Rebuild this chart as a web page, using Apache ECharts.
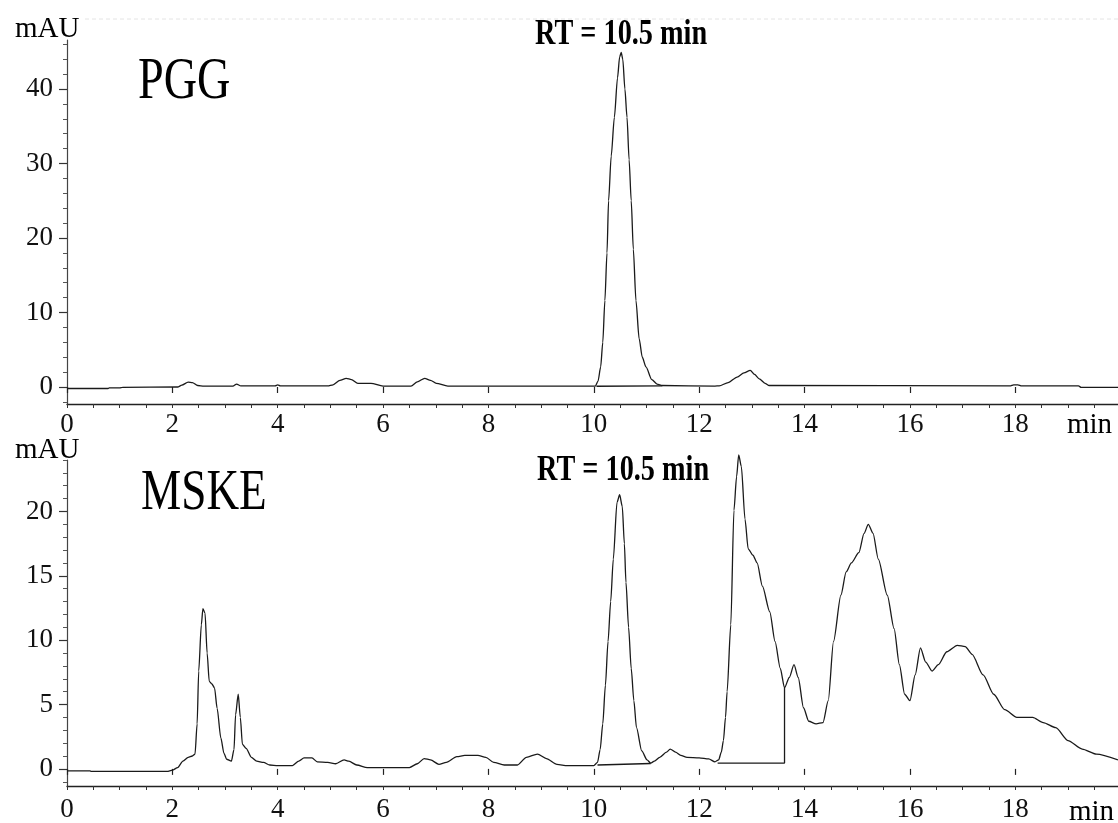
<!DOCTYPE html>
<html><head><meta charset="utf-8">
<script src="https://cdn.jsdelivr.net/npm/echarts@6/dist/echarts.min.js"></script>
<style>html,body{margin:0;padding:0;background:#fff}#c{width:1118px;height:823px}</style>
</head><body><div id="c"></div>
<script>
// ---- data ----
const xTickLabels = [0, 2, 4, 6, 8, 10, 12, 14, 16, 18];
const pggYLabels = [0, 10, 20, 30, 40];
const mskeYLabels = [0, 5, 10, 15, 20];

const pggTime = [0,0.78,0.8,1.0,1.05,2.1,2.18,2.3,2.38,2.48,2.6,3.15,3.22,3.3,3.95,4.0,4.05,4.95,5.05,5.18,5.3,5.4,5.52,5.77,6.0,6.53,6.65,6.79,6.9,7.01,7.23,10.03,
  10.08,10.13,10.17,10.21,10.25,10.28,10.33,10.39,10.45,10.49,10.52,10.55,10.59,10.63,10.67,10.71,10.75,10.8,10.86,10.92,10.99,11.1,11.2,11.3,
  12.3,12.38,12.55,12.72,12.85,12.97,13.05,13.14,13.25,13.33,17.9,17.97,18.05,18.12,19.2,19.25,19.95];
const pggAbs = [-0.2,-0.2,-0.12,-0.12,-0.05,0.0,0.25,0.65,0.6,0.2,0.12,0.12,0.4,0.15,0.15,0.3,0.15,0.15,0.3,0.9,1.17,1.0,0.5,0.5,0.13,0.13,0.7,1.17,0.9,0.5,0.13,0.13,
  0.8,2.7,6,11.6,18,25,31,36.2,41.5,44.3,44.9,44,40,36.2,30.5,25,18.5,11.6,6.5,4,2.7,1.0,0.4,0.2,
  0.13,0.15,0.6,1.34,1.9,2.24,1.7,1.1,0.5,0.2,0.15,0.3,0.3,0.15,0.15,-0.05,-0.05];
const pggBaseTime = [10.05, 11.3];
const pggBaseAbs = [0.1, 0.15];

const mskeTime = [0,0.44,0.46,1.9,2.0,2.1,2.2,2.3,2.38,2.43,2.47,2.5,2.55,2.58,2.62,2.66,2.7,2.75,2.8,2.85,2.92,2.98,3.03,3.12,3.17,3.2,3.25,3.29,3.33,3.4,3.5,3.6,3.73,3.85,
  4.0,4.28,4.4,4.5,4.65,4.75,4.95,5.1,5.26,5.35,5.5,5.7,6.5,6.65,6.78,6.9,7.06,7.2,7.4,7.55,7.8,7.95,8.1,8.3,8.55,8.72,8.93,9.1,9.3,9.5,
  10.0,10.07,10.12,10.17,10.22,10.27,10.32,10.37,10.44,10.49,10.54,10.58,10.61,10.66,10.71,10.76,10.81,10.91,11.01,11.08,11.15,11.25,11.38,11.45,11.55,11.65,11.77,12.0,12.18,12.3,
  12.37,12.42,12.46,12.5,12.53,12.6,12.66,12.71,12.75,12.8,12.87,12.93,13.02,13.1,13.2,13.34,13.44,13.54,13.62,13.71,13.8,13.88,13.98,14.08,14.22,14.35,14.45,14.55,14.69,14.79,14.89,
  15.03,15.13,15.21,15.3,15.4,15.57,15.7,15.8,15.9,16.0,16.1,16.2,16.3,16.42,16.54,16.7,16.9,17.05,17.18,17.39,17.59,17.8,18.03,18.33,18.53,18.77,19.0,19.27,19.54,19.95];
const mskeAbs = [-0.15,-0.15,-0.2,-0.2,-0.1,0.1,0.6,0.9,1.0,1.15,3.5,7.6,11.2,12.45,12.1,9.0,6.8,6.6,6.3,4.7,2.4,1.2,0.75,0.6,1.5,4.2,5.8,4.0,1.9,1.6,0.9,0.6,0.5,0.3,
  0.26,0.26,0.6,0.85,0.85,0.55,0.5,0.4,0.7,0.6,0.3,0.1,0.1,0.4,0.8,0.7,0.35,0.5,0.95,1.05,1.05,0.9,0.5,0.3,0.3,0.9,1.15,0.8,0.35,0.25,
  0.26,0.5,1.5,3.5,6.5,9.9,13,16.3,20.7,21.3,20.4,17.5,14.5,11,7.8,5.3,3.2,1.4,0.7,0.45,0.6,0.9,1.3,1.54,1.3,1.05,0.9,0.85,0.77,0.55,
  0.7,1.3,2.2,4.0,6.0,11.2,20.1,22.7,24.4,23.5,19.4,17.1,16.6,16.0,14.2,12.2,9.9,7.8,6.3,7.1,8.1,7.1,4.75,3.7,3.5,3.6,5.3,9.9,13.5,15.3,16.0,
  16.8,18.3,19.0,18.3,16.3,13.5,10.9,8.1,5.8,5.3,7.3,9.4,8.3,7.6,8.1,9.1,9.6,9.5,8.9,7.3,5.8,4.6,4.0,4.0,3.6,3.2,2.2,1.54,1.15,0.7];
const mskeBase1Time = [10.07, 11.08];
const mskeBase1Abs = [0.3, 0.42];
const mskeBase2Time = [12.35, 13.62, 13.62];
const mskeBase2Abs = [0.45, 0.45, 6.3];

// ---- chart ----
const pairs = (t, v) => t.map((x, i) => [x, v[i]]);
const range = (a, b, s) => { const r = []; for (let x = a; x <= b + 1e-9; x += s) r.push(+x.toFixed(4)); return r; };
const FONT = '"Liberation Serif","Times New Roman",serif';
const INK = '#1a1a1a';
const grids = [
  { left: 67, width: 1051, top: 40, height: 364 },
  { left: 67, width: 1051, top: 460, height: 329 }
];
const xMax = 19.95;
const xMargins = [7, 10];
const yCfg = [
  { min: -2.28, max: 46.58, labels: pggYLabels, minor: range(-2, 46, 2) },
  { min: -1.33, max: 24.0, labels: mskeYLabels, minor: range(-1, 24, 1) }
];
const xAxes = [], yAxes = [];
[0, 1].forEach(g => {
  xAxes.push({
    type: 'value', gridIndex: g, min: 0, max: xMax, interval: 0.5,
    axisLine: { show: true, onZero: false, lineStyle: { color: '#222', width: 1.3 } },
    axisTick: { show: true, inside: false, length: 4, lineStyle: { color: '#333', width: 1 } },
    axisLabel: { show: true, customValues: xTickLabels, margin: xMargins[g], fontFamily: FONT, fontSize: 27, color: '#111' },
    splitLine: { show: false }
  });
  xAxes.push({
    type: 'value', gridIndex: g, min: 0, max: xMax, position: 'bottom',
    axisLine: { show: false }, axisLabel: { show: false }, splitLine: { show: false },
    axisTick: { show: true, customValues: xTickLabels, length: 6, lineStyle: { color: '#222', width: 1.2 } }
  });
  yAxes.push({
    type: 'value', gridIndex: g, min: yCfg[g].min, max: yCfg[g].max,
    axisLine: { show: true, onZero: false, lineStyle: { color: '#444', width: 1.2 } },
    axisTick: { show: true, customValues: yCfg[g].minor, length: 4, lineStyle: { color: '#555', width: 1 } },
    axisLabel: { show: true, customValues: yCfg[g].labels, margin: 14, fontFamily: FONT, fontSize: 27, color: '#111' },
    splitLine: { show: false }
  });
  yAxes.push({
    type: 'value', gridIndex: g, min: yCfg[g].min, max: yCfg[g].max, position: 'left',
    axisLine: { show: false }, axisLabel: { show: false }, splitLine: { show: false },
    axisTick: { show: true, customValues: yCfg[g].labels, length: 8, lineStyle: { color: '#333', width: 1.2 } }
  });
});
const lineSeries = (data, g, smooth) => ({
  type: 'line', xAxisIndex: g * 2, yAxisIndex: g * 2, data, showSymbol: false, symbol: 'none',
  clip: false, smooth: smooth || false, smoothMonotone: 'x', lineStyle: { color: INK, width: 1.3 }, silent: true
});
const txt = (text, x, y, size, bold, sx) => ({
  type: 'text', x, y, scaleX: sx || 1, silent: true,
  style: { text, fill: '#000', font: (bold ? 'bold ' : '') + size + 'px ' + FONT, verticalAlign: 'middle', align: 'left' }
});
const chart = echarts.init(document.getElementById('c'), null, { renderer: 'canvas' });
chart.setOption({
  animation: false,
  backgroundColor: '#fff',
  grid: grids,
  xAxis: xAxes,
  yAxis: yAxes,
  series: [
    lineSeries(pairs(pggTime, pggAbs), 0, 0.25),
    lineSeries(pairs(pggBaseTime, pggBaseAbs), 0),
    lineSeries(pairs(mskeTime, mskeAbs), 1, 0.25),
    lineSeries(pairs(mskeBase1Time, mskeBase1Abs), 1),
    lineSeries(pairs(mskeBase2Time, mskeBase2Abs), 1)
  ],
  graphic: [
    { type: 'line', silent: true, shape: { x1: 85, y1: 19, x2: 1118, y2: 19 }, style: { stroke: '#e4e4e4', lineWidth: 1, lineDash: [4, 3] } },
    txt('mAU', 15, 29, 29),
    txt('mAU', 15, 450, 29),
    txt('min', 1067, 425, 29),
    txt('min', 1069, 812, 29),
    txt('PGG', 138, 82, 60, false, 0.77),
    txt('MSKE', 141, 494, 58, false, 0.78),
    txt('RT = 10.5 min', 535, 35, 36, true, 0.785),
    txt('RT = 10.5 min', 537, 471, 36, true, 0.785)
  ]
});
</script></body></html>
